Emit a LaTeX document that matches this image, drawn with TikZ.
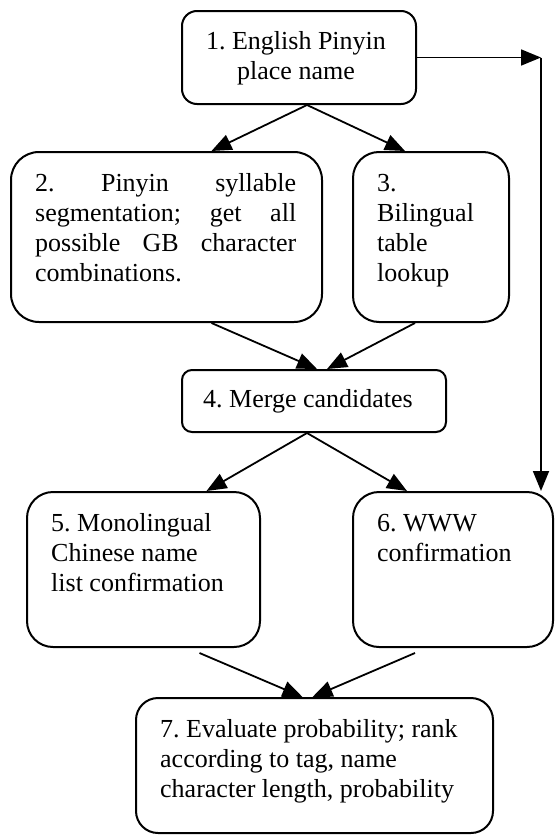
\documentclass[tikz,border=0pt]{standalone}
\usepackage{fontspec}
\setmainfont{Liberation Serif}
\usetikzlibrary{arrows.meta,positioning}
\frenchspacing

\begin{document}
\begin{tikzpicture}[x=1pt, y=-1pt,
    flowbox/.style={draw, line width=2pt, inner sep=0pt},
    boxtext/.style={inner sep=0pt, font=\fontsize{26}{30}\selectfont},
    flow/.style={-{Triangle[length=20pt,width=16pt]}, line width=1.8pt}]
  \useasboundingbox (0,0) rectangle (554,835);
  % boxes
  \node[flowbox, rounded corners=15pt, minimum width=234pt, minimum height=93pt] (pinyin) at (299,57.5) {};
  \node[flowbox, rounded corners=28pt, minimum width=311pt, minimum height=170pt] (segment) at (166.5,237) {};
  \node[flowbox, rounded corners=26pt, minimum width=156pt, minimum height=170pt] (lookup) at (431,237) {};
  \node[flowbox, rounded corners=10pt, minimum width=264pt, minimum height=62pt] (merge) at (314,401) {};
  \node[flowbox, rounded corners=26pt, minimum width=233pt, minimum height=155pt] (mono) at (143.5,569.5) {};
  \node[flowbox, rounded corners=26pt, minimum width=200pt, minimum height=155pt] (www) at (453,569.5) {};
  \node[flowbox, rounded corners=22pt, minimum width=357pt, minimum height=135pt] (rank) at (314.5,765.5) {};
  % texts
  \node[boxtext, anchor=north, align=center] (pinyin-text) at ([shift={(-3pt,-18pt)}]pinyin.north) {\strut 1. English Pinyin\\place name};
  \node[boxtext, anchor=north west, align=left] (segment-text) at ([shift={(25pt,-19pt)}]segment.north west)
    {\strut\makebox[261pt][s]{2. Pinyin syllable}\\\makebox[261pt][s]{segmentation; get all}\\\makebox[261pt][s]{possible GB character}\\combinations.};
  \node[boxtext, anchor=north west, align=left] (lookup-text) at ([shift={(25pt,-19pt)}]lookup.north west) {\strut 3.\\Bilingual\\table\\lookup};
  \node[boxtext, anchor=north, align=center] (merge-text) at ([shift={(-6pt,-17pt)}]merge.north) {\strut 4. Merge candidates};
  \node[boxtext, anchor=north west, align=left] (mono-text) at ([shift={(25pt,-19pt)}]mono.north west) {\strut 5. Monolingual\\Chinese name\\list confirmation};
  \node[boxtext, anchor=north west, align=left] (www-text) at ([shift={(25pt,-19pt)}]www.north west) {\strut 6. WWW\\confirmation};
  \node[boxtext, anchor=north west, align=left] (rank-text) at ([shift={(25pt,-19pt)}]rank.north west) {\strut 7. Evaluate probability; rank\\according to tag, name\\character length, probability};
  % connectors
  \coordinate (turn) at ([xshift=124pt]pinyin.east);
  \draw[flow] ([xshift=8pt]pinyin.south) -- ([xshift=45pt]segment.north);
  \draw[flow] ([xshift=8pt]pinyin.south) -- ([xshift=-26pt]lookup.north);
  \draw[flow] (pinyin.east) -- (turn);
  \draw[flow] (turn) -- (www.north -| turn);
  \draw[flow] ([xshift=45pt]segment.south) -- ([xshift=3pt]merge.north);
  \draw[flow] ([xshift=-16pt]lookup.south) -- ([xshift=13pt]merge.north);
  \draw[flow] ([xshift=-7pt]merge.south) -- ([xshift=63pt]mono.north);
  \draw[flow] ([xshift=-7pt]merge.south) -- ([xshift=-46pt]www.north);
  \draw[flow] ([shift={(56pt,-5pt)}]mono.south) -- ([xshift=-12pt]rank.north);
  \draw[flow] ([shift={(-38pt,-5pt)}]www.south) -- ([xshift=-2pt]rank.north);
\end{tikzpicture}
\end{document}
